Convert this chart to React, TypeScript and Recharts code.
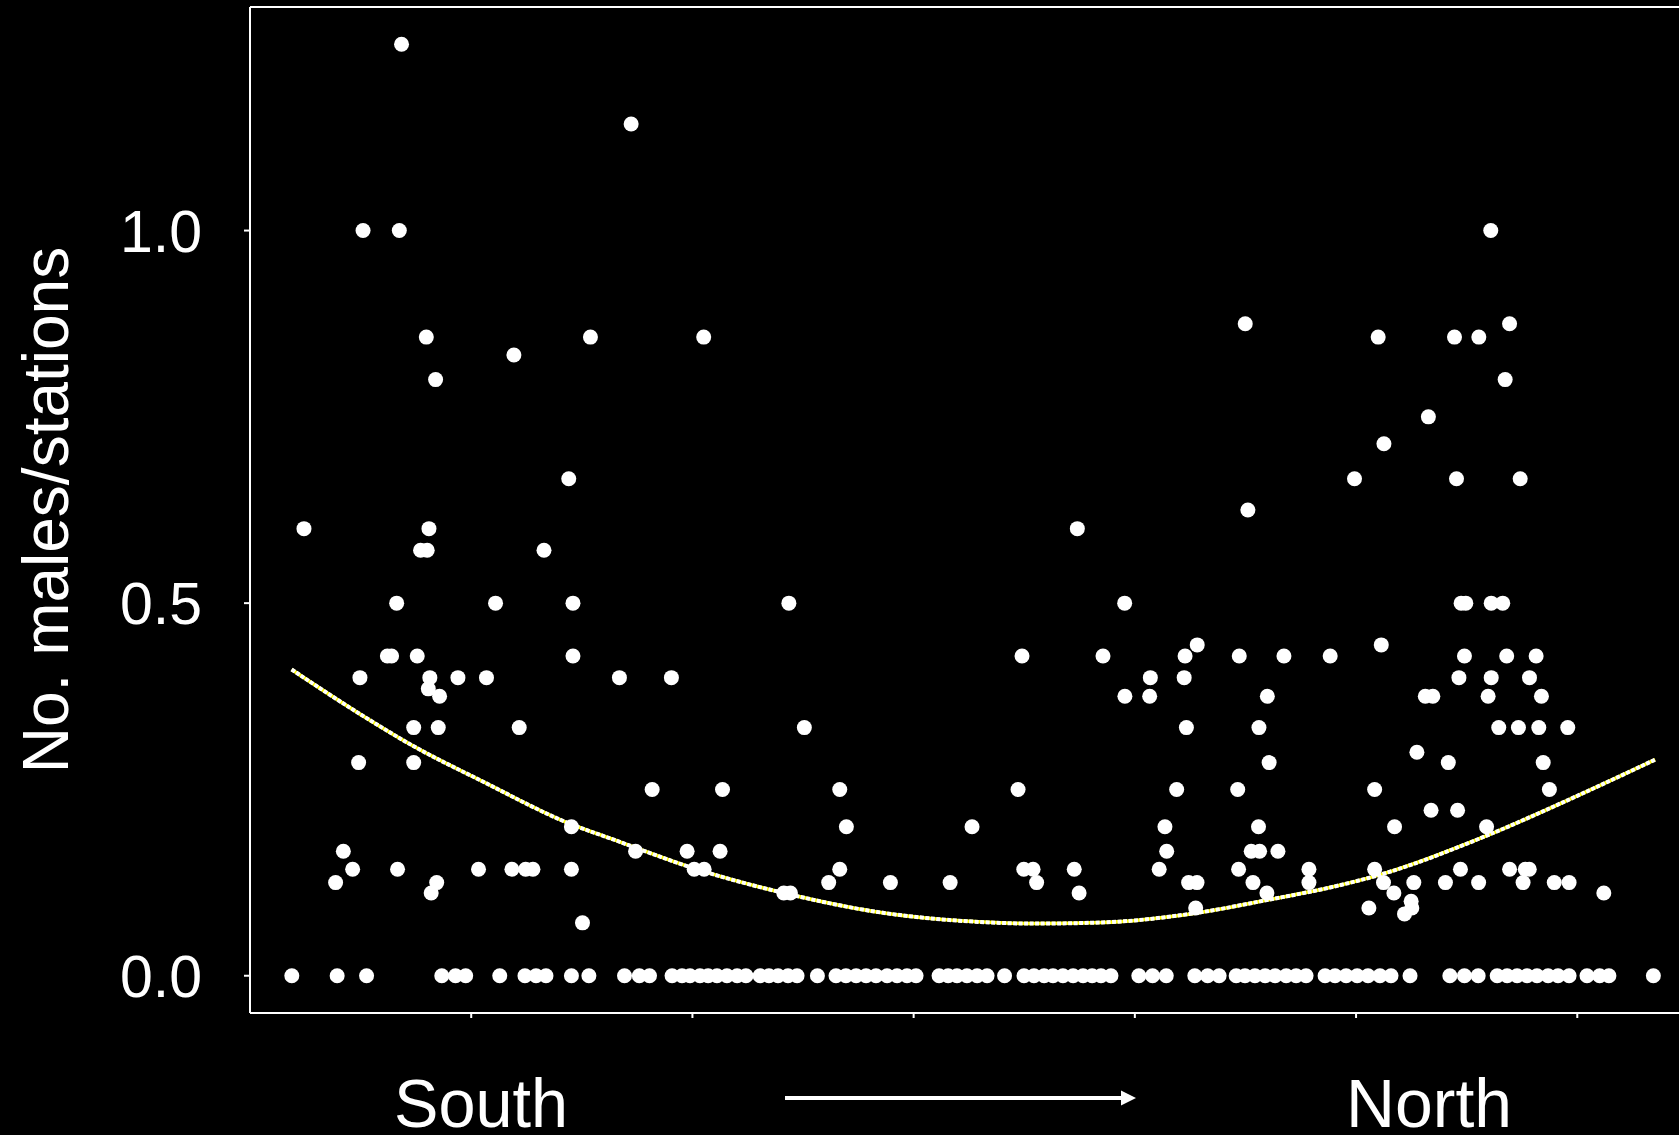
import {
  ComposedChart,
  Scatter,
  Line,
  XAxis,
  YAxis,
  ReferenceLine,
} from "recharts";

// stations with no males caught (position along the south -> north gradient)
const emptySites = [
  1.89, 3.94, 5.27, 8.67, 9.29, 9.75, 11.29, 12.43, 12.93, 13.38, 14.53, 15.32,
  16.93, 17.6, 18.06, 19.08, 19.53, 19.89, 20.34, 20.71, 21.11, 21.56, 22.02,
  22.42, 23.06, 23.46, 23.87, 24.32, 24.73, 25.65, 26.49, 26.94, 27.4, 27.85,
  28.3, 28.8, 29.25, 29.7, 30.11, 31.15, 31.56, 31.96, 32.41, 32.87, 33.32,
  34.11, 34.99, 35.44, 35.9, 36.3, 36.75, 37.21, 37.66, 38.07, 38.47, 38.92,
  40.18, 40.8, 41.42, 42.71, 43.29, 43.81, 44.58, 44.98, 45.43, 45.89, 46.34,
  46.84, 47.29, 47.74, 48.6, 49.05, 49.55, 50.05, 50.54, 51.08, 51.58, 52.44,
  54.24, 54.9, 55.52, 56.38, 56.83, 57.28, 57.73, 58.18, 58.68, 59.13, 59.63,
  60.44, 61.01, 61.43, 63.44,
];

// [position, males per station]
const southSites: [number, number][] = [
  [6.85, 1.25], [5.11, 1.0], [6.75, 1.0], [7.97, 0.857], [15.39, 0.857],
  [11.93, 0.833], [8.39, 0.8], [14.41, 0.667], [17.23, 1.143], [20.51, 0.857],
  [2.44, 0.6], [8.09, 0.6], [7.71, 0.571], [8.01, 0.571], [13.29, 0.571],
  [6.63, 0.5], [11.1, 0.5], [14.6, 0.5], [6.21, 0.429], [6.4, 0.429],
  [7.56, 0.429], [14.6, 0.429], [4.97, 0.4], [8.13, 0.4], [9.4, 0.4],
  [10.69, 0.4], [8.06, 0.385], [8.57, 0.375], [7.4, 0.333], [8.51, 0.333],
  [12.17, 0.333], [4.91, 0.286], [7.4, 0.286], [14.53, 0.2], [4.22, 0.167],
  [4.64, 0.143], [6.67, 0.143], [10.33, 0.143], [11.84, 0.143], [12.46, 0.143],
  [12.79, 0.143], [14.53, 0.143], [3.87, 0.125], [8.44, 0.125], [8.19, 0.111],
  [15.03, 0.071],
];

const middleSites: [number, number][] = [
  [24.36, 0.5], [16.7, 0.4], [19.05, 0.4], [25.06, 0.333], [18.18, 0.25],
  [21.36, 0.25], [26.66, 0.25], [26.96, 0.2], [32.64, 0.2], [17.43, 0.167],
  [19.76, 0.167], [21.25, 0.167], [20.08, 0.143], [20.53, 0.143], [26.66, 0.143],
  [24.13, 0.111], [24.43, 0.111], [26.16, 0.125], [28.95, 0.125], [31.65, 0.125],
  [44.99, 0.875], [45.11, 0.625], [37.4, 0.6], [39.54, 0.5], [42.82, 0.444],
  [34.9, 0.429], [38.56, 0.429], [42.27, 0.429], [44.72, 0.429], [46.74, 0.429],
  [48.83, 0.429], [40.7, 0.4], [42.23, 0.4], [39.55, 0.375], [40.67, 0.375],
  [45.99, 0.375], [42.33, 0.333], [45.61, 0.333], [46.07, 0.286], [34.72, 0.25],
  [41.89, 0.25], [44.65, 0.25], [41.36, 0.2], [45.59, 0.2], [41.44, 0.167],
  [45.26, 0.167], [45.64, 0.167], [46.47, 0.167], [34.98, 0.143], [35.4, 0.143],
  [37.26, 0.143], [41.1, 0.143], [44.69, 0.143], [47.87, 0.143], [35.56, 0.125],
  [42.43, 0.125], [42.81, 0.125], [45.34, 0.125], [47.87, 0.125], [37.48, 0.111],
  [45.97, 0.111], [42.75, 0.091],
];

const northSites: [number, number][] = [
  [56.09, 1.0], [51.0, 0.857], [54.45, 0.857], [55.55, 0.857], [56.94, 0.875],
  [56.74, 0.8], [53.27, 0.75], [51.26, 0.714], [49.93, 0.667], [54.54, 0.667],
  [57.42, 0.667], [54.75, 0.5], [54.96, 0.5], [56.11, 0.5], [56.63, 0.5],
  [51.14, 0.444], [54.9, 0.429], [56.81, 0.429], [58.14, 0.429], [54.65, 0.4],
  [56.11, 0.4], [57.84, 0.4], [53.13, 0.375], [53.47, 0.375], [55.97, 0.375],
  [58.38, 0.375], [56.45, 0.333], [57.34, 0.333], [58.26, 0.333], [59.57, 0.333],
  [52.75, 0.3], [54.17, 0.286], [58.46, 0.286], [50.84, 0.25], [58.74, 0.25],
  [53.39, 0.222], [54.59, 0.222], [51.74, 0.2], [55.9, 0.2], [50.84, 0.143],
  [54.72, 0.143], [56.94, 0.143], [57.65, 0.143], [57.83, 0.143], [51.24, 0.125],
  [52.61, 0.125], [54.04, 0.125], [55.54, 0.125], [57.55, 0.125], [58.96, 0.125],
  [59.63, 0.125], [51.71, 0.111], [61.2, 0.111], [52.49, 0.1], [52.52, 0.091],
  [50.58, 0.091], [52.19, 0.083],
];

// quadratic trend, sampled along the gradient
const trendX = [
  1.88, 4.93, 7.4, 10.5, 14.54, 16.22, 20.29, 24.28, 28.27, 32.49, 35.5, 38.51,
  42.73, 46.05, 48.76, 51.02, 55.99, 59.3, 63.52,
];
const trendY = [
  0.411, 0.352, 0.308, 0.261, 0.203, 0.185, 0.142, 0.11, 0.086, 0.073, 0.07,
  0.0715, 0.084, 0.102, 0.118, 0.135, 0.189, 0.232, 0.29,
];

const xTicks = [10, 20, 30, 40, 50, 60];
const yTicks = [0, 0.5, 1.0];

const FONT = "'Liberation Sans', Arial, sans-serif";

const points = [
  ...emptySites.map((x) => ({ x, y: 0 })),
  ...[...southSites, ...middleSites, ...northSites].map(([x, y]) => ({ x, y })),
];
const trend = trendX.map((x, i) => ({ x, y: trendY[i] }));

const Dot = (props: any) => (
  <circle cx={props.cx} cy={props.cy} r={7.5} fill="#fff" />
);

const GradientLabel = ({ viewBox }: any) => {
  const { x, y } = viewBox;
  const base = y + 114;
  return (
    <g fill="#fff" fontFamily={FONT}>
      <text
        x={x + 231}
        y={base}
        textAnchor="middle"
        fontSize={69}
        textLength={174}
        lengthAdjust="spacingAndGlyphs"
      >
        South
      </text>
      <line
        x1={x + 535}
        y1={y + 85}
        x2={x + 872}
        y2={y + 85}
        stroke="#fff"
        strokeWidth={4}
      />
      <polygon
        points={`${x + 871},${y + 77.5} ${x + 886},${y + 85} ${x + 871},${y + 92.5}`}
      />
      <text
        x={x + 1179}
        y={base}
        textAnchor="middle"
        fontSize={69}
        textLength={166}
        lengthAdjust="spacingAndGlyphs"
      >
        North
      </text>
    </g>
  );
};

const RateLabel = ({ viewBox }: any) => {
  const { y, height } = viewBox;
  return (
    <text
      transform={`translate(68,${y + height / 2}) rotate(-90)`}
      textAnchor="middle"
      fill="#fff"
      fontFamily={FONT}
      fontSize={64}
    >
      No. males/stations
    </text>
  );
};

export default function App() {
  return (
    <div
      style={{
        position: "fixed",
        left: 0,
        top: 0,
        width: 1679,
        height: 1135,
        overflow: "hidden",
        background: "#000",
      }}
    >
      <ComposedChart
        width={1720}
        height={1135}
        margin={{ top: 7, right: 10, bottom: 92, left: 0 }}
      >
        <XAxis
          type="number"
          dataKey="x"
          domain={[0, 66]}
          allowDataOverflow
          ticks={xTicks}
          tickFormatter={() => ""}
          tickSize={5}
          height={30}
          axisLine={{ stroke: "#fff", strokeWidth: 2 }}
          tickLine={{ stroke: "#fff", strokeWidth: 2 }}
          label={{ content: GradientLabel }}
        />
        <YAxis
          type="number"
          dataKey="y"
          domain={[-0.05, 1.3]}
          allowDataOverflow
          ticks={yTicks}
          tickFormatter={(v: number) => v.toFixed(1)}
          width={250}
          tickSize={6}
          tickMargin={42}
          axisLine={{ stroke: "#fff", strokeWidth: 2 }}
          tickLine={{ stroke: "#fff", strokeWidth: 2 }}
          tick={{ fill: "#fff", fontSize: 59, fontFamily: FONT }}
          label={{ content: RateLabel }}
        />
        <ReferenceLine y={1.3} stroke="#fff" strokeWidth={2} />
        <ReferenceLine x={66} stroke="#fff" strokeWidth={2} />
        <Scatter data={points} shape={Dot} isAnimationActive={false} />
        {/* fitted curve: yellow line under a run of white dashes */}
        <Line
          data={trend}
          dataKey="y"
          type="monotone"
          stroke="#ffff00"
          strokeWidth={3.5}
          dot={false}
          activeDot={false}
          isAnimationActive={false}
        />
        <Line
          data={trend}
          dataKey="y"
          type="monotone"
          stroke="#fff"
          strokeWidth={4}
          strokeDasharray="4 1.5"
          dot={false}
          activeDot={false}
          isAnimationActive={false}
        />
      </ComposedChart>
    </div>
  );
}
